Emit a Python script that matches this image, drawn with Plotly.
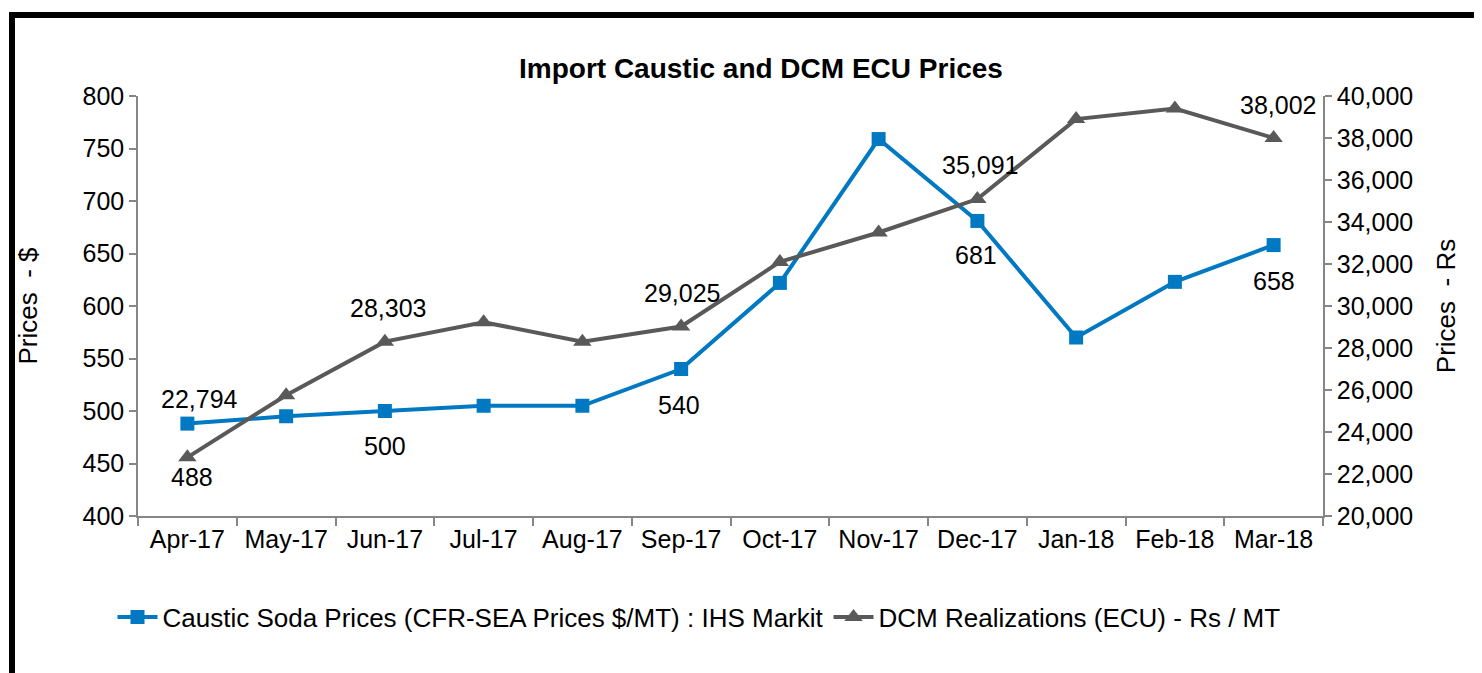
import plotly.graph_objects as go

months = ["Apr-17", "May-17", "Jun-17", "Jul-17", "Aug-17", "Sep-17",
          "Oct-17", "Nov-17", "Dec-17", "Jan-18", "Feb-18", "Mar-18"]
caustic = [488, 495, 500, 505, 505, 540, 622, 759, 681, 570, 623, 658]
dcm = [22794, 25750, 28303, 29230, 28300, 29025, 32100, 33500, 35091, 38900, 39400, 38002]

caustic_name = "Caustic Soda Prices (CFR-SEA Prices $/MT) : IHS Markit"
dcm_name = "DCM Realizations (ECU) - Rs / MT"

# labelled points: (index, xshift, yshift)
dcm_labels = [(0, 12, 58), (2, 3, 34), (5, 1, 33), (8, 3, 34), (11, 4, 33)]
caustic_labels = [(0, 5, -53), (2, 0, -35), (5, -2, -36), (8, -1, -34), (11, 0, -36)]

# page has an 8px body margin: figure is placed at (8, 8)
OFF = 8
W, H = 1482 - OFF, 673 - OFF
L, R, T, B = 138, 1323, 96, 516  # plot area in page pixels

BLUE = "#0079C2"
GREY = "#595959"
AXIS = "#868686"
FONT = "Liberation Sans, Arial, sans-serif"
FS = 25

fig = go.Figure()
fig.add_trace(go.Scatter(x=months, y=caustic, name=caustic_name, mode="lines+markers",
                         line=dict(color=BLUE, width=4),
                         marker=dict(symbol="square", size=14, color=BLUE)))
fig.add_trace(go.Scatter(x=months, y=dcm, name=dcm_name, mode="lines+markers", yaxis="y2",
                         line=dict(color=GREY, width=4),
                         marker=dict(symbol="triangle-up", size=16, color=GREY)))

ann = []
for i, dx, dy in dcm_labels:
    ann.append(dict(x=months[i], y=dcm[i], xref="x", yref="y2", text=f"{dcm[i]:,}",
                    showarrow=False, xshift=dx, yshift=dy,
                    font=dict(size=FS, color="black", family=FONT)))
for i, dx, dy in caustic_labels:
    ann.append(dict(x=months[i], y=caustic[i], xref="x", yref="y", text=f"{caustic[i]:,}",
                    showarrow=False, xshift=dx, yshift=dy,
                    font=dict(size=FS, color="black", family=FONT)))

pw, ph = R - L, B - T
def px(x):
    return (x - L) / pw
def py(y):
    return (B - y) / ph

ann.append(dict(x=px(761), y=py(68), xref="paper", yref="paper", xanchor="center",
                yanchor="middle", text="<b>Import Caustic and DCM ECU Prices</b>",
                showarrow=False, font=dict(size=28, color="black", family=FONT)))

shapes = [
    dict(type="line", xref="paper", yref="paper", x0=px(12), x1=px(1500), y0=py(15), y1=py(15),
         line=dict(color="black", width=6)),
    dict(type="line", xref="paper", yref="paper", x0=px(12), x1=px(12), y0=py(12), y1=py(700),
         line=dict(color="black", width=6)),
]

fig.update_layout(
    width=W, height=H,
    margin=dict(l=L - OFF, r=1482 - R, t=T - OFF, b=673 - B),
    paper_bgcolor="white", plot_bgcolor="white",
    font=dict(family=FONT, size=FS, color="black"),
    showlegend=True,
    legend=dict(orientation="h", x=px(699), xanchor="center", y=py(617), yanchor="middle",
                font=dict(size=26, family=FONT), itemwidth=40, tracegroupgap=0),
    xaxis=dict(type="category", tickson="boundaries", ticks="outside", ticklen=8,
               tickcolor=AXIS, tickwidth=1.5, showline=True, linecolor=AXIS, linewidth=1.5,
               showgrid=False, tickfont=dict(size=FS), range=[-0.5, 11.5]),
    yaxis=dict(range=[400, 800], dtick=50, ticks="outside", ticklen=7, tickcolor=AXIS,
               tickwidth=1.5, showline=True, linecolor=AXIS, linewidth=1.5, showgrid=False,
               zeroline=False, tickfont=dict(size=FS),
               title=dict(text="Prices  - $", font=dict(size=26), standoff=37)),
    yaxis2=dict(range=[20000, 40000], dtick=2000, tickformat=",", overlaying="y", side="right",
                ticks="outside", ticklen=7, tickcolor=AXIS, tickwidth=1.5, showline=True,
                linecolor=AXIS, linewidth=1.5, showgrid=False, zeroline=False,
                tickfont=dict(size=FS),
                title=dict(text="Prices  - Rs", font=dict(size=26), standoff=25)),
    annotations=ann,
    shapes=shapes,
)

fig.write_html("out.html")
